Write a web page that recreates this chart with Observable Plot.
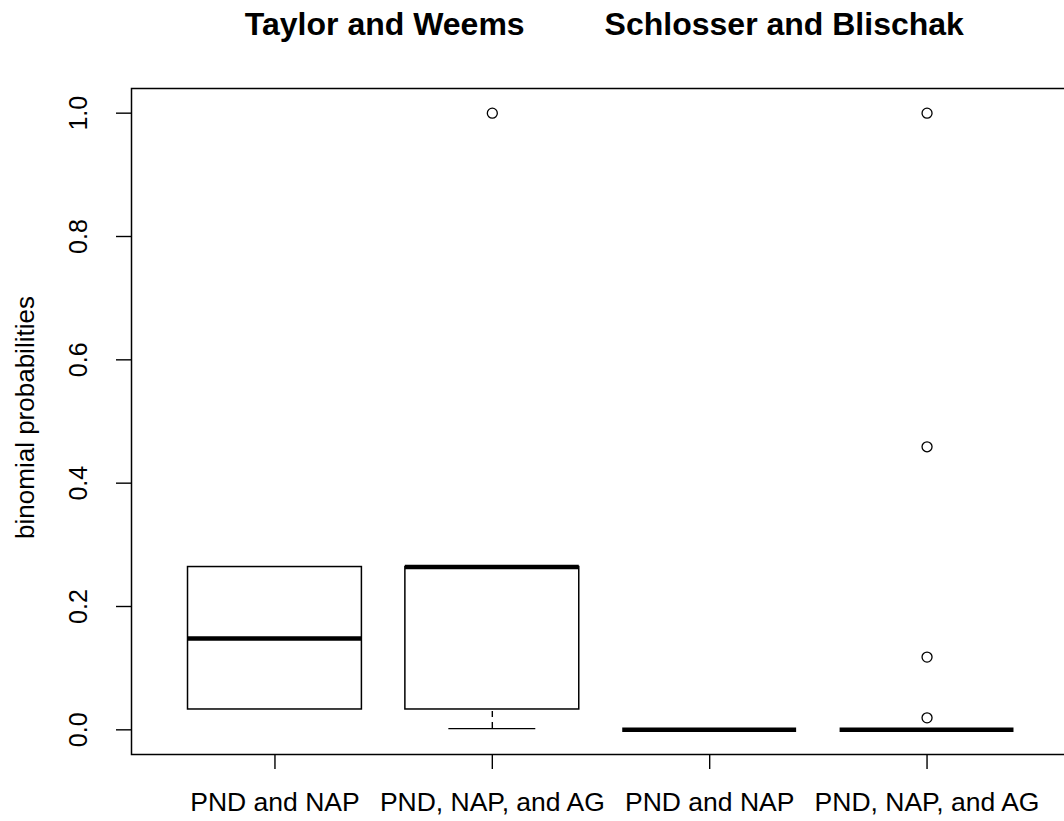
<!DOCTYPE html>
<html>
<head>
<meta charset="utf-8">
<script src="https://cdn.jsdelivr.net/npm/d3@7"></script>
<script src="https://cdn.jsdelivr.net/npm/@observablehq/plot@0.6"></script>
<style>
  html, body { margin: 0; padding: 0; background: #fff; overflow: hidden; }
  #chart { width: 1064px; height: 821px; overflow: hidden; }
  #chart svg { max-width: none !important; width: 1072px; height: 821px; }
</style>
</head>
<body>
<div id="chart"></div>
<script>
// ---- data ----
const groups = ["PND and NAP", "PND, NAP, and AG", "PND and NAP", "PND, NAP, and AG"];
const groupPos = [1, 2, 3, 4];
const q1Values = [0.033, 0.033, 0, 0];
const medianValues = [0.148, 0.264, 0, 0];
const q3Values = [0.264, 0.264, 0, 0];
const lowerWhisker = [0.033, 0.002, 0, 0];
const upperWhisker = [0.264, 0.264, 0, 0];
const outlierGroup = [2, 4, 4, 4, 4];
const outlierValues = [1.0, 1.0, 0.459, 0.118, 0.0195];
const studies = ["Taylor and Weems", "Schlosser and Blischak"];
const studyPos = [1.505, 3.343];
const yTicks = [0, 0.2, 0.4, 0.6, 0.8, 1.0];
const yLabel = "binomial probabilities";

// ---- tables ----
const stats = groups.map((g, i) => ({
  group: g, pos: groupPos[i], q1: q1Values[i], median: medianValues[i],
  q3: q3Values[i], lo: lowerWhisker[i], hi: upperWhisker[i]
}));
const outliers = outlierValues.map((v, i) => ({pos: outlierGroup[i], value: v}));
const titles = studies.map((s, i) => ({label: s, pos: studyPos[i]}));
const half = 0.4, cap = 0.2;
const font = "'Liberation Sans', Arial, sans-serif";

const chart = Plot.plot({
  width: 1072,
  height: 821,
  marginLeft: 131,
  marginRight: 2,
  marginTop: 88,
  marginBottom: 67,
  style: {fontFamily: font, background: "white", color: "black", maxWidth: "none"},
  x: {domain: [0.34, 4.66], axis: null},
  y: {domain: [-0.04, 1.04], axis: null},
  marks: [
    // whiskers
    Plot.ruleX(stats.filter(d => d.lo < d.q1), {x: "pos", y1: "lo", y2: "q1", stroke: "black", strokeWidth: 1.4, strokeDasharray: "6,5"}),
    Plot.ruleX(stats.filter(d => d.hi > d.q3), {x: "pos", y1: "q3", y2: "hi", stroke: "black", strokeWidth: 1.4, strokeDasharray: "6,5"}),
    Plot.ruleY(stats.filter(d => d.lo < d.q1), {y: "lo", x1: d => d.pos - cap, x2: d => d.pos + cap, stroke: "black", strokeWidth: 1.4}),
    Plot.ruleY(stats.filter(d => d.hi > d.q3), {y: "hi", x1: d => d.pos - cap, x2: d => d.pos + cap, stroke: "black", strokeWidth: 1.4}),
    // boxes
    Plot.rect(stats, {x1: d => d.pos - half, x2: d => d.pos + half, y1: "q1", y2: "q3", fill: "white", stroke: "black", strokeWidth: 1.5}),
    // medians
    Plot.ruleY(stats, {y: "median", x1: d => d.pos - half, x2: d => d.pos + half, stroke: "black", strokeWidth: 4.5}),
    // outliers
    Plot.dot(outliers, {x: "pos", y: "value", r: 5, stroke: "black", fill: "none", strokeWidth: 1.3}),
    // frame
    Plot.frame({stroke: "black", strokeWidth: 1.5}),
    // axes
    Plot.axisX({ticks: groupPos, tickFormat: i => groups[i - 1], label: null, tickSize: 15, tickPadding: 23, fontSize: 26.5, stroke: "black", strokeWidth: 1.4, fill: "black"}),
    Plot.axisY({ticks: yTicks, tickSize: 15, tickFormat: () => "", label: null, stroke: "black", strokeWidth: 1.4}),
    Plot.text(yTicks, {y: d => d, text: d => d.toFixed(1), frameAnchor: "left", dx: -45, rotate: -90, lineAnchor: "bottom", textAnchor: "middle", fontSize: 25, fill: "black", ariaLabel: "ytick-labels"}),
    // y label
    Plot.text([yLabel], {text: d => d, frameAnchor: "left", dx: -98, dy: -4, rotate: -90, lineAnchor: "bottom", textAnchor: "middle", fontSize: 26, fill: "black"}),
    // titles
    Plot.text(titles, {x: "pos", text: "label", frameAnchor: "top", dy: -54, lineAnchor: "bottom", textAnchor: "middle", fontSize: 32, fontWeight: "bold", fill: "black"})
  ]
});

d3.select(chart).selectAll('g[aria-label="ytick-labels"] text').each(function () {
  const t = this.getAttribute("transform") || "";
  this.setAttribute("transform", t + " scale(1,0.62)");
});

document.getElementById("chart").appendChild(chart);
</script>
</body>
</html>
